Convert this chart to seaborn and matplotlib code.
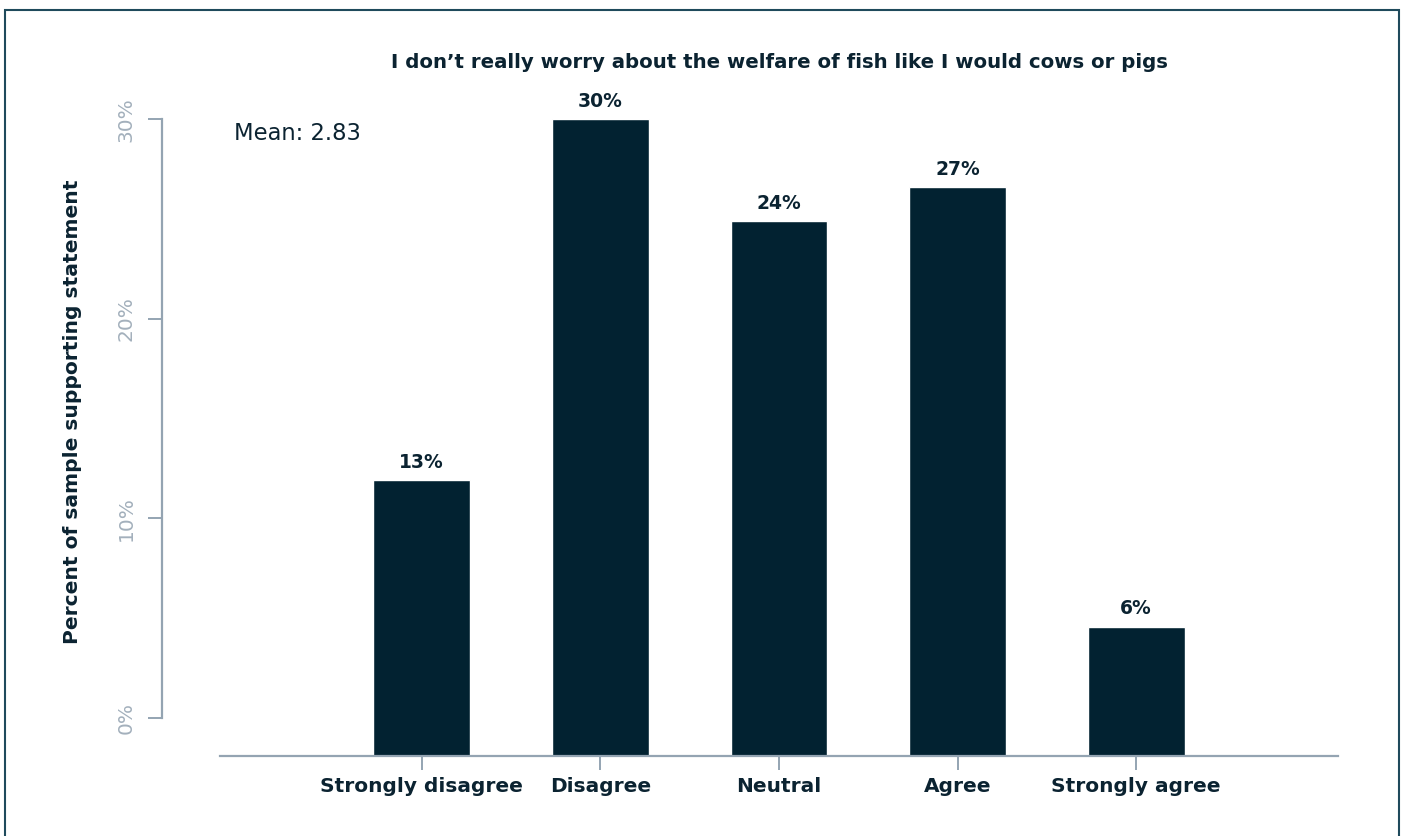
import matplotlib
matplotlib.use("Agg")
import matplotlib.pyplot as plt
from matplotlib.patches import Rectangle
import seaborn as sns
import pandas as pd

# ---- data ----
categories = ["Strongly disagree", "Disagree", "Neutral", "Agree", "Strongly agree"]
values = [13.0, 30.0, 25.2, 26.8, 6.1]
bar_labels = ["13%", "30%", "24%", "27%", "6%"]
ytick_values = [0, 10, 20, 30]
ytick_labels = ["0%", "10%", "20%", "30%"]
title = "I don\u2019t really worry about the welfare of fish like I would cows or pigs"
ylabel = "Percent of sample supporting statement"
mean_text = "Mean: 2.83"

# ---- style ----
sns.set_style("white")
plt.rcParams["font.family"] = ["DejaVu Sans"]
BAR = "#022231"
TEXT = "#0b2331"
AXIS = "#94a4b2"
TICKLAB = "#a3b0bc"
FRAME = "#1f4a5c"

W, H = 1405, 836
fig = plt.figure(figsize=(W / 100, H / 100), dpi=100)
fig.patch.set_facecolor("white")

left, right, bottom, top = 220, 1338, 756, 100
ax = fig.add_axes([left / W, 1 - bottom / H, (right - left) / W, (bottom - top) / H])

df = pd.DataFrame({"cat": categories, "val": values})
sns.barplot(data=df, x="cat", y="val", color=BAR, saturation=1, width=0.543, ax=ax)

ax.set_xlim(-1.13, 5.13)
ax.set_ylim(0, 30.91)
ax.set_xlabel("")
ax.set_ylabel("")
ax.set_yticks([])
for s in ["left", "top", "right"]:
    ax.spines[s].set_visible(False)
ax.spines["bottom"].set_color(AXIS)
ax.spines["bottom"].set_linewidth(1.6)
ax.tick_params(axis="x", direction="out", length=10, width=1.4, color=AXIS,
               pad=5, labelsize=14.5, labelcolor=TEXT, bottom=True)
for t in ax.get_xticklabels():
    t.set_fontweight("bold")

ax.bar_label(ax.containers[0], labels=bar_labels, padding=6,
             fontsize=13.5, fontweight="bold", color=TEXT)

# secondary y axis carrying the percentage scale
ax2 = ax.twinx()
ax2.set_ylim(-1.93, 30.97)
ax2.yaxis.set_ticks_position("left")
ax2.spines["left"].set_visible(True)
ax2.spines["left"].set_position(("outward", 41.8))
ax2.spines["left"].set_bounds(0, 30)
ax2.spines["left"].set_color(AXIS)
ax2.spines["left"].set_linewidth(1.6)
for s in ["right", "top", "bottom"]:
    ax2.spines[s].set_visible(False)
ax2.set_yticks(ytick_values)
ax2.set_yticklabels(ytick_labels, rotation=90, va="center", color=TICKLAB, fontsize=14.5)
ax2.tick_params(axis="y", direction="out", length=10, width=1.4, color=AXIS, pad=9,
                left=True, right=False)
ax2.patch.set_visible(False)

fig.text(779 / W, 1 - 62 / H, title, ha="center", va="center",
         fontsize=14.2, fontweight="bold", color=TEXT)
fig.text(234 / W, 1 - 133 / H, mean_text, ha="left", va="center",
         fontsize=16.3, color=TEXT)
fig.text(73 / W, 1 - 412 / H, ylabel, ha="center", va="center", rotation=90,
         fontsize=14.6, fontweight="bold", color=TEXT)

fig.patches.append(Rectangle((4.5 / W, -0.05), (1399 - 4.5) / W, 1 - 10 / H + 0.05,
                             transform=fig.transFigure, fill=False,
                             edgecolor=FRAME, linewidth=1.5))

fig.savefig("out.png", dpi=100, facecolor="white")
